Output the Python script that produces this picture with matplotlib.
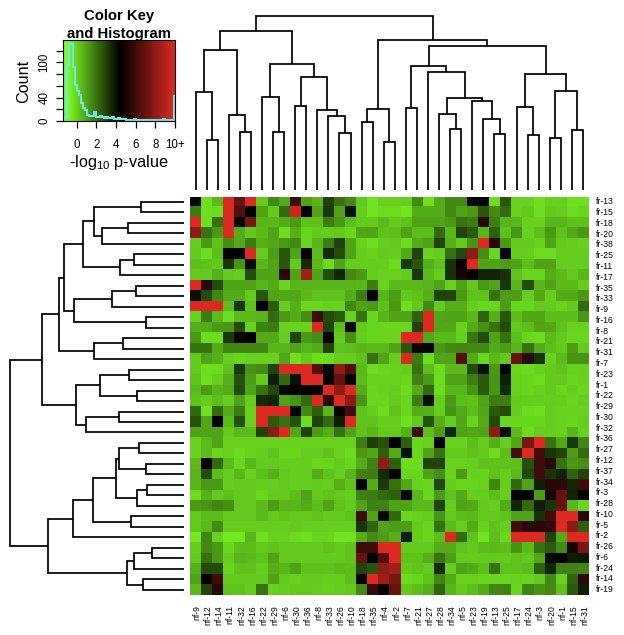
import numpy as np
import matplotlib
matplotlib.use("Agg")
import matplotlib.pyplot as plt
from matplotlib.colors import LinearSegmentedColormap

plt.rcParams['font.family'] = ['Liberation Sans', 'DejaVu Sans']
plt.rcParams['mathtext.default'] = 'regular'

col_labels = ['nf-9','nf-12','nf-14','nf-11','nf-32','nf-16','nf-22','nf-29','nf-6','nf-30','nf-36','nf-8',
              'nf-33','nf-26','nf-10','nf-18','nf-35','nf-4','nf-2','nf-7','nf-21','nf-27','nf-28','nf-34',
              'nf-5','nf-23','nf-19','nf-13','nf-25','nf-17','nf-24','nf-3','nf-20','nf-1','nf-15','nf-31']
row_labels = ['fr-13','fr-15','fr-18','fr-20','fr-38','fr-25','fr-11','fr-17','fr-35','fr-33','fr-9','fr-16',
              'fr-8','fr-21','fr-31','fr-7','fr-23','fr-1','fr-22','fr-29','fr-30','fr-32','fr-36','fr-27',
              'fr-12','fr-37','fr-34','fr-3','fr-28','fr-10','fr-5','fr-2','fr-26','fr-6','fr-24','fr-14','fr-19']

r00 = [4.3,-.3,.5,10,7,10,.2,1.5,.8,6,1,.6,3,2,1.5,.2,-.4,0, 0,.1,1.5,-.3,.8,1.5,1.5,4.3,4.3,-.2,2.6,0,0,-.3,0,0,-.3,-.3]
r01 = [1.8,-.3,-.2,10,6.5,4.5,1,.2,2.2,9.5,4.5,1,3.2,1,4,.1,-.4,-.2, -.2,-.4,.8,.8,.8,1.5,1,1.2,2.6,1.5,2.2,0,.2,-.3,.2,.1,-.2,-.1]
r02 = [10,-.3,2,10,4.2,7.5,.6,.5,.8,1.2,.3,.3,1.8,1.2,.4,.2,.2,.5, .2,.3,1,1,1,1.2,2,1.8,5.5,1.8,.6,.6,0,0,.6,.6,.3,.3]
r03 = [8,2,1.2,10,.8,.2,.5,1,-.2,.7,-.1,.2,.1,.2,-.1,.9,1,.3, .4,1,.4,.4,2.2,.6,3,2.5,.6,2.4,.3,1.3,0,.4,1.2,.3,.9,1.2]
r04 = [.1,1.2,.3,1.4,.8,1.8,.7,.9,1.2,1.5,-.1,.6,1.8,3,1,0,-.3,.1, .2,-.2,.8,1,3,.7,.2,1.3,10,5.5,1.2,.2,.2,0,1,.2,.1,0]
r05 = [.2,-.2,.4,4.5,4.5,10,.1,1.1,2.6,1,4.6,.4,3.5,2.8,1,.1,0,.2, .1,.9,3,0,.1,2,2.9,8,1.4,-.1,4.6,.1,.1,-.2,-.2,.1,.1,.1]
r06 = [.4,.3,.2,3.3,1.3,4.2,.6,1,2.6,.2,3.5,.5,-.2,1,.1,.1,.1,.1, -.2,3.2,2.6,.7,.3,3.4,4.6,10,1,1,1.1,1,.4,1,1,.1,.1,.1]
r07 = [.2,.2,.7,.2,.1,2.8,1,1,5.5,1,8.5,1,2.8,3.6,1.5,1.2,.1,0, 0,.1,3.3,.5,.1,3.4,5,4.6,3.7,3.7,3.4,.3,-.1,-.1,.7,.5,.2,.6]
r08 = [10,5.5,2.8,1,1,1,.6,.8,-.1,.6,.6,.6,.6,.6,.6,.5,1.8,0, .5,.5,.5,.6,1,0,1,.2,1.2,1,3.3,.6,2.8,.6,1,.5,.5,.1]
r09 = [4,2.8,1.6,.8,.8,.2,2.6,1,.9,.9,.5,.3,.3,.3,.8,1.8,4.6,.6, 1.1,.2,.3,.7,3,3,1.2,.3,.3,2,1.1,1.1,.1,.9,.1,.8,.8,1.2]
r10 = [10,10,10,.4,3.3,.3,4.4,2.5,.1,.7,-.1,-.1,0,0,1.6,1,1.2,.3, 1.2,-.3,.2,1.5,.1,.7,.7,.1,-.1,-.1,1.1,-.1,-.1,.2,.2,-.1,.2,2.2]
r11 = [0,1.8,.5,-.2,.5,.5,.6,2.2,1.2,.8,1.4,6,2.8,2.5,0,2,-.1,.6, 1,1,2.3,10,.9,1,1,.5,2.3,.7,2.6,.4,.9,.9,.4,.4,.4,1.3]
r12 = [.7,.8,1.2,1.2,2.8,0,1.7,1.8,0,0,0,10,3,.4,4.6,.2,-.1,-.1, -.1,-.1,3,10,.9,.9,0,.8,1.4,2,2.8,.2,.4,1,.9,.3,0,0]
r13 = [1.2,-.2,-.2,3.2,4.2,4.4,.8,.8,.1,3,1.2,1.4,4.6,.2,1.4,.1,-.1,-.1, -.1,10,10,.9,.5,.5,.1,1.9,2.8,1,2,.4,-.1,-.2,.5,.2,-.1,-.1]
r14 = [2,2,.8,1.6,1.6,1.6,1.6,.6,.6,1,.6,.8,3,.3,.4,.6,.5,.5, 1,2.6,4.6,4.6,1.2,1.5,1.6,1.5,1.5,.8,1.1,.6,2,.8,.4,.2,1.1,.2]
r15 = [.2,1,.7,.1,-.1,0,0,0,.9,-.3,.2,-.2,-.2,.1,.1,.3,2,1, .1,10,1.8,-.2,1,1,6.5,.8,-.1,.5,.2,7,5.5,3.3,0,.5,1.3,1.3]
r16 = [.2,-.3,-.2,.3,3.2,1.3,1.5,3,10,10,10,6.5,4.2,8,6.5,.5,-.2,-.1, 0,.1,2,.4,-.2,.5,.5,2.8,4,1.2,4.4,-.1,-.2,0,.2,.3,0,0]
r17 = [.3,-.3,.1,.7,2.7,1.1,.2,3.8,2.2,4,10,10,4.5,7,4.6,.5,0,0, 0,-.1,1.7,1.2,-.2,1,1,1.8,2.5,1.3,3.7,0,-.1,-.2,.2,.2,-.1,0]
r18 = [.5,1.1,.6,.8,2.8,1,2,2.9,4.2,4.4,4.4,4.4,10,8,10,.8,-.1,0, .1,-.2,.8,2.2,-.2,.6,.6,1.3,2.5,1.3,3.5,0,-.1,0,.2,-.1,.1,-.1]
r19 = [.3,.1,.4,.1,1,.1,3.5,3.6,1,1.3,2.2,10,5.5,10,8,1.3,-.1,-.1, .2,-.1,1.8,4,.1,1.2,.4,.3,1,1.8,1.8,.2,.1,.1,.1,.1,-.1,.1]
r20 = [2.2,-.3,2.2,.8,1.8,0,10,10,10,4.5,1.5,2.4,.6,4.4,6,.3,.1,-.2, .3,-.1,.8,.7,.1,1.3,.8,.4,.9,2.5,2.8,.1,-.2,-.3,.1,0,0,0]
r21 = [2.7,.9,4.5,.5,2.7,0,10,2.5,2,2.7,-.2,3,2.2,3.8,10,.3,.3,.1, .1,-.3,.2,2.7,.7,.1,.9,-.1,.8,2.8,-.1,-.1,-.1,-.1,.1,0,-.1,.1]
r22 = [1,1,1,.2,.5,.5,3,8,10,.9,3,1.1,.7,2,1,.3,.6,.2, .2,.7,6,.4,1.1,3.6,1,.9,1,8,4.2,.5,-.2,.1,.1,0,.6,0]
r23 = [0,.5,1,0,0,0,0,0,0,0,0,0,0,0,0,1.8,3.1,2.7, 4.4,2.4,-.1,0,4.5,0,0,.4,.1,.7,.1,.9,7.5,10,2,.9,3.2,1.6]
r24 = [0,.5,-.1,0,-.2,0,.1,.3,-.1,-.1,.1,.1,.3,0,-.2,1.2,.9,2.4, .8,4,-.1,1,2,.2,.2,.3,.2,-.2,.4,6,10,6,3.3,3,1.1,2.2]
r25 = [.5,4.6,2.2,.5,-.1,.6,.2,.2,.1,.1,.1,-.1,-.1,.2,-.1,.8,1.7,8, 2.4,-.2,-.2,3,3,0,0,.1,.3,.3,.3,.4,2.7,6,5.5,2,1.2,1.4]
r26 = [.6,2.8,.4,.1,.6,0,.4,.7,.2,.1,.1,.8,.3,.1,.6,1.7,1.8,3.5, 4.6,-.1,-.1,1,1.4,0,1.2,0,0,.3,.1,.5,2.9,6,3.3,3.7,2.3,3]
r27 = [.6,1.2,1.2,.1,.2,.2,.1,.1,.2,.1,.1,.2,.1,.7,.3,4.4,.8,3.2, 2,.9,0,-.1,2.9,.1,-.1,-.1,0,1.6,.1,2.2,1,3.8,5.5,5.5,3.6,6]
r28 = [-.2,.7,.2,.4,.2,.2,-.1,.2,.2,.4,1,.2,.3,.2,.1,1.7,1.8,2.2, 2.4,4.6,.6,-.1,1.2,.3,.8,.1,.1,.4,.1,4.4,4.4,1.1,5,7,3.7,4.6]
r29 = [1.2,1.3,1.6,1.4,.2,.2,.5,1.1,.6,.6,.8,.4,1,.3,.2,1,1.7,1.7, 1,1,.5,.5,3,.1,1,.9,.2,.1,.8,3.6,2.2,3.8,3.3,7,.6,-.1]
r30 = [.2,.4,.4,.2,.2,.2,.5,.2,.3,.2,.2,.3,.2,.2,.3,6,1,4.2, 2.2,-.1,0,.1,1.3,.2,.4,.5,.2,.2,.3,1,1,3.4,6,10,10,5.5]
r31 = [.2,.5,1.5,.1,.1,.1,.1,.1,.1,.2,.1,.1,.1,.1,.1,3.3,2.3,1, 1.1,1.1,.1,-.1,2,.5,.1,.8,0,.3,.1,6,5.5,5.5,5.7,10,8,2.4]
r32 = [-.5,1.6,0,-.5,-.5,.6,-.3,0,0,-.2,-.3,-.1,-.1,-.4,-.4,.7,1.5,1.1, .7,3.8,.1,-.1,.4,10,2.2,.3,-.4,.4,-.1,10,10,10,3,.8,10,10]
r33 = [.1,1.5,1.2,-.1,.4,.4,.2,.3,.2,.2,.2,.2,.3,.2,.3,6,6,10, 10,.2,.2,.2,.8,.8,.3,.2,.4,.5,.4,1.3,.5,2,2.5,1.5,5,7.5]
r34 = [.2,2,1.2,.1,.6,.5,.3,1,.2,.2,.2,.2,.2,.2,.3,7,4.6,6.5, 10,.3,.3,.7,1.9,1.1,.2,.2,.2,.2,.2,.3,.2,.9,4.2,4.4,3.8,3.9]
r35 = [.7,2.8,2.8,-.1,.3,.3,.1,.7,.6,1,.3,.3,.3,.5,.4,3,2.6,8, 8.5,.2,.3,.2,3.5,.1,1,.8,.4,2,.3,.3,.4,2.4,3.6,1.7,1.7,1.6]
r36 = [1,4.6,6,.2,.2,.2,.2,1,.2,0,.2,.2,.1,.1,.4,4.6,10,8.5, 7.5,-.2,-.1,.3,1.6,.8,0,0,-.1,-.1,-.1,0,-.1,.2,1.5,0,2.3,5.5]
r37 = [.5,3,5.5,.3,.3,.1,2,0,.1,.2,.2,.1,0,.1,.2,1.5,5.8,4.5, 7,.2,.4,.7,2.3,.6,.2,.4,.8,1.6,1.6,-.1,1.7,1.3,1.5,.3,2.5,3.8]
rows = [r00,r01,r02,r03,r04,r05,r06,r07,r08,r09,r10,r11,r12,r13,r14,r15,r16,r17,r18,r19,
        r20,r21,r22,r23,r24,r25,r26,r27,r28,r29,r30,r31,r32,r33,r34,r35,r36,r37]

hist_counts = [2,6,95,132,132,92,62,52,45,30,22,18,10,9,8,9,15,6,7,8,6,5,6,5,5,6,4,3,5,4,3,3,2,2,2,2,3,2,
               1,1,1,1,1,1,2,1,1,2,1,1,1,3,1,1,1,1,2,43]

# dendrograms: (height in px, left child, right child); integers are leaves
top_tree = (174,
    (159,
        (140.5, (98, 0, (50, 1, 2)), (75, 3, (58, 4, 5))),
        (126, (93.5, 6, (58.5, 7, 8)),
              (113, (84.5, 9, 10), (80.5, 11, (74.5, 12, (57.5, 13, 14)))))),
    (150.5,
        (81.5, (68, 15, 16), (48.5, 17, 18)),
        (144,
            (124.5, (82, 19, 20),
                    (118, 21, (92.5, (76, 22, (61, 23, 24)),
                                     (89, 25, (71, 26, (56, 27, 28)))))),
            (116, (83, 29, (55.5, 30, 31)), (99.5, (52.5, 32, 33), (60, 34, 35))))))
left_tree = (174,
    (142.5,
        (125.5,
            (120.5,
                (101.5,
                    (90.5, (43.5, 0, 1), (82.5, (56.5, 2, 3), 4)),
                    (64.5, (50.5, 5, 6), 7)),
                (110,
                    (72.5, (48.5, 8, 9), 10),
                    (38, 11, 12))),
            (90.5, (61, 13, 14), 15)),
        (108,
            (84.5, (55.5, 16, 17), (47, 18, 19)),
            (98.5, (65.5, 20, 21), 22))),
    (136.5,
        (111.5,
            (91.5,
                (68,
                    (65.5, (45.5, 23, 24), (38.5, 25, 26)),
                    (47.5, (37.5, 27, 28), 29)),
                (53.5, 30, 31)),
            32),
        (57.5,
            (50.5, (32.5, 33, 34), 35),
            (41.5, 36, 37))))

W, H = 624, 635
fig = plt.figure(figsize=(W/100, H/100), dpi=100)
def px_axes(x0, y0, x1, y1):
    return fig.add_axes([x0/W, 1-y1/H, (x1-x0)/W, (y1-y0)/H])

cmap = LinearSegmentedColormap.from_list('greenred', [
    (0.0, '#7CFC24'), ((-.9+1.4)/11.4, '#7CFC24'), ((4.4+1.4)/11.4, '#000000'), (1.0, '#DC2A22')])
vmin, vmax = -1.4, 10

# heat map
HX0, HX1, HY0, HY1 = 190, 588.5, 196.6, 595
ax = px_axes(HX0, HY0, HX1, HY1)
M = np.array(rows, dtype=float)
ax.imshow(M, cmap=cmap, vmin=vmin, vmax=vmax, aspect='auto', interpolation='nearest',
          extent=[0, M.shape[1], M.shape[0], 0])
for s in ax.spines.values():
    s.set_visible(False)
ax.set_xticks(np.arange(len(col_labels)) + 0.65)
ax.set_xticklabels(col_labels, rotation=90, fontsize=6.2, va='top', ha='center')
ax.yaxis.tick_right()
ax.set_yticks(0.5 + np.linspace(0, 37, len(row_labels)))
ax.set_yticklabels(row_labels, fontsize=6.2, va='center', ha='left')
ax.tick_params(axis='x', length=0, pad=7.5)
ax.tick_params(axis='y', length=0, pad=5.5)

def draw_tree(node, ax, orient):
    if not isinstance(node, tuple):
        return node + 0.5, 0.0
    h, a, b = node
    xa, ha = draw_tree(a, ax, orient)
    xb, hb = draw_tree(b, ax, orient)
    xs = [xa, xa, xb, xb]
    ys = [ha, h, h, hb]
    if orient == 'top':
        ax.plot(xs, ys, color='black', lw=1.25, solid_joinstyle='miter', solid_capstyle='butt')
    else:
        ax.plot(ys, xs, color='black', lw=1.25, solid_joinstyle='miter', solid_capstyle='butt')
    return (xa + xb) / 2, h

# top dendrogram
axt = px_axes(HX0, 0, HX1, 190)
draw_tree(top_tree, axt, 'top')
axt.set_xlim(0, M.shape[1]); axt.set_ylim(0, 190); axt.axis('off')

# left dendrogram
axl = px_axes(0, HY0, 184, HY1)
draw_tree(left_tree, axl, 'left')
axl.set_xlim(184, 0); axl.set_ylim(M.shape[0], 0); axl.axis('off')

# color key
axk = px_axes(63, 39.5, 175, 121)
grad = np.linspace(vmin, vmax, 400)[None, :]
axk.imshow(grad, cmap=cmap, vmin=vmin, vmax=vmax, aspect='auto', extent=[vmin, vmax, 0, 139])
edges = vmin + 0.2 * np.arange(len(hist_counts) + 1)
edges[-1] = 10
edges[-2] = 9.85
axk.stairs(hist_counts, edges, color='#6FE6DE', lw=1.5, baseline=None)
axk.fill_between([9.85, 10], [43, 43], color='#A9C9C6', lw=0)
axk.set_xlim(vmin, vmax); axk.set_ylim(0, 139)
axk.set_xticks([0, 2, 4, 6, 8, 10])
axk.set_xticklabels(['0', '2', '4', '6', '8', '10+'], fontsize=8.3)
axk.set_yticks([0, 20, 40, 60, 80, 100, 120])
axk.set_yticklabels(['0', '', '40', '', '', '100', ''], fontsize=8.3, rotation=90, va='center')
axk.tick_params(axis='x', length=5, width=0.9, pad=8)
axk.tick_params(axis='y', length=5, width=0.9, pad=4)
for s in axk.spines.values():
    s.set_linewidth(0.8)

fig.text(119/W, 1-16/H, 'Color Key', fontsize=10.7, fontweight='bold', ha='center', va='center')
fig.text(119/W, 1-34/H, 'and Histogram', fontsize=10.7, fontweight='bold', ha='center', va='center')
fig.text(24/W, 1-81/H, 'Count', fontsize=11.7, rotation=90, ha='center', va='center')
fig.text(119/W, 1-162/H, r'-log$_{10}$ p-value', fontsize=11.7, ha='center', va='center')

fig.savefig('out.png', dpi=100, facecolor='white')
